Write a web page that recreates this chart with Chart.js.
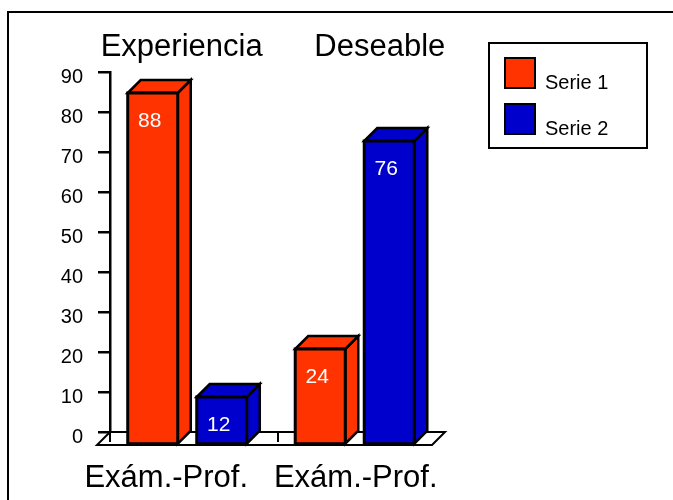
<!DOCTYPE html>
<html>
<head>
<meta charset="utf-8">
<script src="https://cdn.jsdelivr.net/npm/chart.js@4/dist/chart.umd.min.js"></script>
<style>
  body { margin: 0; background: #fff; }
</style>
</head>
<body>
<canvas id="chart" width="673" height="500"></canvas>
<script>
// data
const categories = ['Exám.-Prof.', 'Exám.-Prof.'];
const groupTitles = ['Experiencia', 'Deseable'];
const seriesNames = ['Serie 1', 'Serie 2'];
const serie1 = [88, 24];
const serie2 = [12, 76];
const seriesColors = ['#FF3300', '#0000CC'];

const FONT = "'Liberation Sans', Arial, sans-serif";
const DEPTH = 13;

// draws the floor and the bars as boxes instead of flat rectangles
const bars3d = {
    id: 'bars3d',
    beforeDatasetsDraw(chart) {
        const ctx = chart.ctx;
        const area = chart.chartArea;
        ctx.save();
        ctx.lineJoin = 'miter';
        ctx.strokeStyle = '#000';

        // floor
        ctx.lineWidth = 2;
        ctx.fillStyle = '#fff';
        ctx.beginPath();
        ctx.moveTo(area.left, area.bottom);
        ctx.lineTo(area.right, area.bottom);
        ctx.lineTo(area.right - DEPTH, area.bottom + DEPTH);
        ctx.lineTo(area.left - DEPTH, area.bottom + DEPTH);
        ctx.closePath();
        ctx.fill();
        ctx.stroke();

        const step = (area.right - area.left) / categories.length;
        ctx.beginPath();
        for (let i = 0; i < categories.length; i++) {
            const px = Math.round(area.left + i * step);
            ctx.moveTo(px, area.bottom);
            ctx.lineTo(px, area.bottom + 10);
        }
        ctx.stroke();

        // bars, left to right
        ctx.lineWidth = 2.5;
        for (let j = 0; j < categories.length; j++) {
            chart.data.datasets.forEach((ds, i) => {
                const el = chart.getDatasetMeta(i).data[j];
                const w = el.width;
                const fx = el.x - w / 2 - DEPTH / 2;
                const ft = el.y + DEPTH;
                const fb = el.base + DEPTH;
                ctx.fillStyle = ds.backgroundColor;

                // side
                ctx.beginPath();
                ctx.moveTo(fx + w, ft);
                ctx.lineTo(fx + w + DEPTH, ft - DEPTH);
                ctx.lineTo(fx + w + DEPTH, fb - DEPTH);
                ctx.lineTo(fx + w, fb);
                ctx.closePath();
                ctx.fill();
                ctx.stroke();

                // top
                ctx.beginPath();
                ctx.moveTo(fx, ft);
                ctx.lineTo(fx + DEPTH, ft - DEPTH);
                ctx.lineTo(fx + w + DEPTH, ft - DEPTH);
                ctx.lineTo(fx + w, ft);
                ctx.closePath();
                ctx.fill();
                ctx.stroke();

                // front
                ctx.beginPath();
                ctx.rect(fx, ft, w, fb - ft);
                ctx.fill();
                ctx.lineWidth = 3;
                ctx.stroke();
                ctx.lineWidth = 2.5;

                // value
                ctx.fillStyle = '#fff';
                ctx.font = '21px ' + FONT;
                ctx.textAlign = 'center';
                ctx.textBaseline = 'middle';
                ctx.fillText(String(ds.data[j]), fx + w / 2 - 3, ft + 28);
            });
        }
        ctx.restore();
        return false;
    }
};

// titles, legend box and frame
const decorations = {
    id: 'decorations',
    afterDraw(chart) {
        const ctx = chart.ctx;
        const area = chart.chartArea;
        ctx.save();
        ctx.fillStyle = '#000';
        ctx.textBaseline = 'alphabetic';
        ctx.textAlign = 'center';
        const mid = (area.left + area.right - DEPTH) / 2;

        ctx.font = '31px ' + FONT;
        ctx.fillText(groupTitles.join('      '), mid + 2, 56);

        ctx.font = '31px ' + FONT;
        ctx.fillText(categories.join('   '), mid - 10, 487);

        // legend
        ctx.strokeStyle = '#000';
        ctx.lineWidth = 2;
        ctx.strokeRect(489, 43, 158, 105);
        ctx.font = '20px ' + FONT;
        ctx.textAlign = 'left';
        chart.data.datasets.forEach((ds, i) => {
            const y = 58 + i * 46;
            ctx.fillStyle = ds.backgroundColor;
            ctx.fillRect(505, y, 30, 30);
            ctx.strokeRect(505, y, 30, 30);
            ctx.fillStyle = '#000';
            ctx.fillText(ds.label, 545, y + 31);
        });

        // outer frame
        ctx.lineWidth = 2;
        ctx.strokeRect(8, 12, 700, 600);
        ctx.restore();
    }
};

new Chart(document.getElementById('chart'), {
    type: 'bar',
    data: {
        labels: categories,
        datasets: [
            { label: seriesNames[0], data: serie1, backgroundColor: seriesColors[0] },
            { label: seriesNames[1], data: serie2, backgroundColor: seriesColors[1] }
        ]
    },
    options: {
        responsive: false,
        animation: false,
        categoryPercentage: 0.824,
        barPercentage: 0.725,
        layout: { padding: { left: 10, top: 72, right: 228, bottom: 68 } },
        plugins: {
            legend: { display: false },
            tooltip: { enabled: false }
        },
        scales: {
            x: { display: false },
            y: {
                min: 0,
                max: 90,
                afterFit(scale) { scale.width = 100; },
                ticks: {
                    stepSize: 10,
                    color: '#000',
                    padding: 15,
                    labelOffset: 5,
                    font: { family: FONT, size: 20 }
                },
                grid: {
                    drawOnChartArea: false,
                    drawTicks: true,
                    tickLength: 12,
                    color: '#000',
                    lineWidth: 2.5
                },
                border: { display: true, color: '#000', width: 2.5 }
            }
        }
    },
    plugins: [bars3d, decorations]
});
</script>
</body>
</html>
